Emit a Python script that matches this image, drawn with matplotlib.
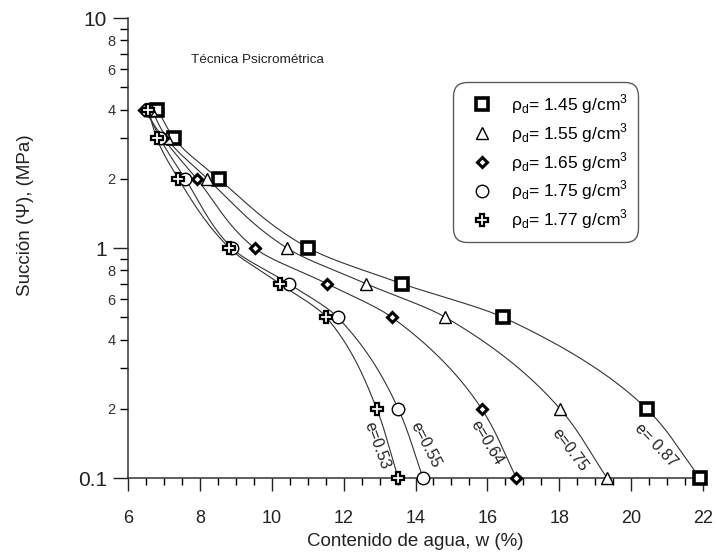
import numpy as np
import matplotlib
matplotlib.use('Agg')
from matplotlib import pyplot as plt
from matplotlib.ticker import FixedLocator, FixedFormatter, MultipleLocator

plt.rcParams['font.family'] = ['Liberation Sans', 'DejaVu Sans']
plt.rcParams['mathtext.fontset'] = 'custom'
plt.rcParams['mathtext.rm'] = 'Liberation Sans'

# suction levels (MPa) and water content (%) for each dry density
suction = [4, 3, 2, 1, 0.7, 0.5, 0.2, 0.1]
w_145 = [6.82, 7.28, 8.52, 11.02, 13.62, 16.43, 20.43, 21.92]
w_155 = [6.65, 7.08, 8.21, 10.42, 12.62, 14.83, 18.02, 19.33]
w_165 = [6.45, 6.98, 7.91, 9.52, 11.53, 13.34, 15.84, 16.81]
w_175 = [6.52, 6.89, 7.59, 8.89, 10.47, 11.83, 13.52, 14.21]
w_177 = [6.56, 6.80, 7.40, 8.82, 10.22, 11.52, 12.92, 13.52]

densities = ['1.45', '1.55', '1.65', '1.75', '1.77']
void_ratios = ['e= 0.87', 'e=0.75', 'e=0.64', 'e=0.55', 'e=0.53']

# label placement for the void ratio text along each curve
e_x = [20.7, 18.3, 16.0, 14.28, 12.92]
e_y = [0.139, 0.132, 0.142, 0.139, 0.139]
e_rot = [-46, -53, -59, -63, -70]

# marker styles: (marker, size, edge width, face)
styles = [('s', 8, 2.6, 'white'),
          ('^', 8.5, 1.0, 'white'),
          ('D', 5.5, 2.2, 'white'),
          ('o', 9, 1.0, 'white'),
          ('P', 9, 1.6, 'white')]


def smooth_curve(t, x, n=300):
    # monotone cubic (pchip-like) through the points, x as function of t
    t = np.asarray(t, float)
    x = np.asarray(x, float)
    h = np.diff(t)
    d = np.diff(x) / h
    m = np.zeros_like(x)
    for k in range(1, len(x) - 1):
        if d[k - 1] * d[k] > 0:
            w1 = 2 * h[k] + h[k - 1]
            w2 = h[k] + 2 * h[k - 1]
            m[k] = (w1 + w2) / (w1 / d[k - 1] + w2 / d[k])
    m[0] = d[0]
    m[-1] = d[-1]
    tt = np.linspace(t[0], t[-1], n)
    i = np.clip(np.searchsorted(t, tt) - 1, 0, len(h) - 1)
    s = (tt - t[i]) / h[i]
    xx = ((2 * s**3 - 3 * s**2 + 1) * x[i] + (s**3 - 2 * s**2 + s) * h[i] * m[i]
          + (-2 * s**3 + 3 * s**2) * x[i + 1] + (s**3 - s**2) * h[i] * m[i + 1])
    return tt, xx


fig = plt.figure(figsize=(7.18, 5.53), dpi=100)
ax = fig.add_axes([128 / 718, 1 - 478 / 553, 575 / 718, 460 / 553])

all_w = [w_145, w_155, w_165, w_175, w_177]
logs = np.log10(suction)[::-1]
for w, dens, (mk, ms, mew, fc) in zip(all_w, densities, styles):
    tt, xx = smooth_curve(logs, np.asarray(w)[::-1])
    ax.plot(xx, 10**tt, color='#333333', lw=0.8, zorder=2)
    ax.plot(w, suction, ls='none', marker=mk, ms=ms, mew=mew, mfc=fc, mec='black',
            zorder=3, clip_on=False,
            label='ρ$_\\mathregular{d}$= ' + dens + ' g/cm$^\\mathregular{3}$')

for txt, x, y, r in zip(void_ratios, e_x, e_y, e_rot):
    ax.text(x, y, txt, rotation=r, rotation_mode='anchor', ha='center', va='center',
            fontsize=11.5, color='#222222')

ax.text(7.75, 6.6, 'Técnica Psicrométrica', fontsize=9.7, va='center', color='#222222')

ax.set_yscale('log')
ax.set_xlim(6, 22)
ax.set_ylim(0.1, 10)

ax.xaxis.set_major_locator(MultipleLocator(2))
ax.xaxis.set_minor_locator(MultipleLocator(0.5))
ax.yaxis.set_major_locator(FixedLocator([0.1, 1, 10]))
ax.yaxis.set_major_formatter(FixedFormatter(['0.1', '1', '10']))
minor_y = [0.2, 0.3, 0.4, 0.5, 0.6, 0.7, 0.8, 0.9, 2, 3, 4, 5, 6, 7, 8, 9]
minor_lab = ['2', '', '4', '', '6', '', '8', '', '2', '', '4', '', '6', '', '8', '']
ax.yaxis.set_minor_locator(FixedLocator(minor_y))
ax.yaxis.set_minor_formatter(FixedFormatter(minor_lab))

ax.tick_params(axis='x', which='major', length=9, width=1, labelsize=13, pad=14, colors='#222222')
ax.tick_params(axis='x', which='minor', length=5, width=1)
ax.tick_params(axis='y', which='major', length=11, width=1, labelsize=15, pad=4, colors='#222222')
ax.tick_params(axis='y', which='minor', length=6, width=1, labelsize=10.5, pad=3, labelcolor='#333333')

for side in ['top', 'right']:
    ax.spines[side].set_visible(False)
for side in ['left', 'bottom']:
    ax.spines[side].set_linewidth(1.1)
    ax.spines[side].set_color('#333333')

ax.set_xlabel('Contenido de agua, w (%)', fontsize=13.5, color='#222222')
ax.set_ylabel('Succión (Ψ), (MPa)', fontsize=13.5, color='#222222')
ax.xaxis.set_label_coords(0.5, -55 / 460)
ax.yaxis.set_label_coords(-94 / 575, 0.572)

leg = ax.legend(loc='upper left', bbox_to_anchor=(0.565, 0.861), borderaxespad=0,
                fontsize=12.5, handlelength=2.1, handletextpad=0.65, borderpad=0.6,
                labelspacing=0.3, frameon=True, fancybox=True)
leg.get_frame().set_edgecolor('#333333')
leg.get_frame().set_linewidth(1.0)
leg.get_frame().set_boxstyle('round', pad=0, rounding_size=0.8)

fig.savefig('out.png', dpi=100)
